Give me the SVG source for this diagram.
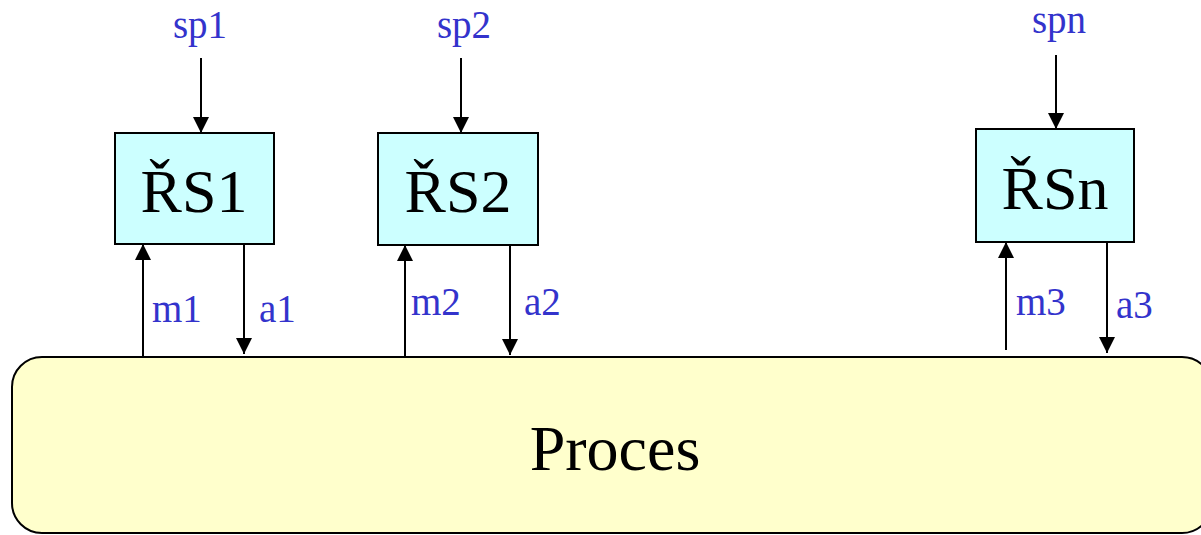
<svg xmlns="http://www.w3.org/2000/svg" width="1201" height="535" viewBox="0 0 1201 535">
<style>
.box{fill:#CCFFFF;stroke:#000;stroke-width:2}
.proc{fill:#FFFFCC;stroke:#000;stroke-width:2}
.big{font-family:"Liberation Serif",serif;font-size:62px;fill:#000;text-anchor:middle}
.lbl{font-family:"Liberation Serif",serif;font-size:39px;fill:#3333CC}
.c{text-anchor:middle}
.ln{stroke:#000;stroke-width:2;fill:none;marker-end:url(#ah)}
</style>
<defs>
<marker id="ah" markerWidth="16" markerHeight="16" viewBox="0 0 16 16" refX="16" refY="8" orient="auto" markerUnits="userSpaceOnUse">
<path d="M0,0 L16,8 L0,16 Z" fill="#000"/>
</marker>
</defs>
<g id="proces">
<rect class="proc" x="12" y="357" width="1200" height="176" rx="30" ry="30"/>
<text class="big" x="615" y="470" style="font-size:64px">Proces</text>
</g>
<g id="rs1">
<rect class="box" x="115" y="133" width="159" height="111"/>
<text class="big" x="194" y="212">ŘS1</text>
</g>
<g id="rs2">
<rect class="box" x="378" y="133" width="160" height="112"/>
<text class="big" x="458" y="212">ŘS2</text>
</g>
<g id="rsn">
<rect class="box" x="976" y="129" width="158" height="113"/>
<text class="big" x="1055" y="209">ŘSn</text>
</g>
<g id="connectors">
<line class="ln" x1="201" y1="58" x2="201" y2="133"/>
<line class="ln" x1="461" y1="58" x2="461" y2="133"/>
<line class="ln" x1="1056" y1="55" x2="1056" y2="129"/>
<line class="ln" x1="143" y1="356" x2="143" y2="244"/>
<line class="ln" x1="244" y1="244" x2="244" y2="354"/>
<line class="ln" x1="405" y1="356" x2="405" y2="245"/>
<line class="ln" x1="510" y1="245" x2="510" y2="355"/>
<line class="ln" x1="1006" y1="350" x2="1006" y2="242"/>
<line class="ln" x1="1107" y1="242" x2="1107" y2="353"/>
</g>
<g id="labels">
<text class="lbl c" x="200" y="38">sp1</text>
<text class="lbl c" x="464" y="38">sp2</text>
<text class="lbl c" x="1059" y="33">spn</text>
<text class="lbl" x="152" y="322">m1</text>
<text class="lbl" x="259" y="322">a1</text>
<text class="lbl" x="411" y="315">m2</text>
<text class="lbl" x="524" y="315">a2</text>
<text class="lbl" x="1016" y="315">m3</text>
<text class="lbl" x="1116" y="318">a3</text>
</g>
</svg>
